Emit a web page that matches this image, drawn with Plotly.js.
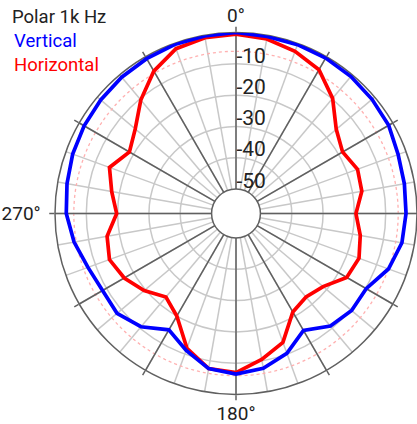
<!DOCTYPE html>
<html>
<head>
<meta charset="utf-8">
<script src="https://cdn.plot.ly/plotly-3.0.1.min.js"></script>
<style>html,body{margin:0;padding:0;background:#fff;}#chart{width:417px;height:424px;}</style>
</head>
<body>
<div id="chart"></div>
<script>
// Angles (degrees, clockwise from top)
const angles = [0,10,20,30,40,50,60,70,80,90,100,110,120,130,140,150,160,170,
                180,190,200,210,220,230,240,250,260,270,280,290,300,310,320,330,340,350];
// Vertical response (dB)
const vertical = [0,-0.4,-0.4,-0.5,-0.7,-1.1,-1.5,-2.7,-3.2,-3.5,-4.0,-6.0,-9.8,-9.6,-10.9,-14.7,-10.3,-7.6,
                  -6.5,-7.5,-11.3,-14.9,-10.6,-8.2,-8.6,-7.5,-5.3,-3.6,-3.0,-2.3,-1.8,-1.4,-1.0,-0.7,-0.4,-0.2];
// Horizontal response (dB)
const horizontal = [-0.5,-1.2,-2.7,-4.8,-9.8,-16,-18.5,-16.5,-17,-19.5,-17.5,-16,-17,-21.5,-23,-21.5,-14,-10.5,
                    -7,-7.5,-12,-20,-23,-19.5,-16.6,-14.8,-16,-19.7,-17.5,-14.8,-18.5,-15.8,-10.5,-5.3,-1.8,-0.8];
const radialTicks = [-10,-20,-30,-40,-50];
const radialTickText = ['-10','-20','-30','-40','-50'];
const majorAngles = [0,30,60,90,120,150,180,210,240,270,300,330];
const majorAngleText = ['0°','','','','','','180°','','','','',''];
const minorAngleText = angles.map(a => a === 270 ? '270°' : '');
const refLevel = -6;

function closed(a){ return a.concat([a[0]]); }
const thetaClosed = angles.concat([360]);

const refTheta = [], refR = [];
for (let t = 0; t <= 360; t += 2) { refTheta.push(t); refR.push(refLevel); }

const dom = {x:[55/417, 1], y:[29.5/424, 391.5/424]};
const hole = 0.135;

const traces = [
  {type:'scatterpolar', subplot:'polar', r:refR, theta:refTheta, mode:'lines',
   line:{color:'#ffb0b0', width:1.3, dash:'3px,3px'}, hoverinfo:'skip'},
  {type:'scatterpolar', subplot:'polar2', name:'Horizontal', r:closed(horizontal), theta:thetaClosed, mode:'lines',
   line:{color:'#ff0000', width:3.7}},
  {type:'scatterpolar', subplot:'polar2', name:'Vertical', r:closed(vertical), theta:thetaClosed, mode:'lines',
   line:{color:'#0000ff', width:3.7}},
  {type:'scatterpolar', subplot:'polar3', r:[], theta:[], mode:'lines', hoverinfo:'skip'}
];

const layout = {
  width:417, height:424, margin:{l:0,r:0,t:0,b:0}, showlegend:false,
  paper_bgcolor:'#fff',
  font:{family:'Roboto, sans-serif', size:18, color:'#222'},
  title:{text:'Polar 1k Hz', x:12/417, xanchor:'left', y:1-17/424, yanchor:'middle',
         font:{size:18.5, color:'#222', family:'Roboto, sans-serif'}},
  annotations:[
    {text:'Vertical', xref:'paper', yref:'paper', x:12/417, xanchor:'left', y:(424-41.5)/424, yanchor:'middle',
     showarrow:false, font:{size:18.5, color:'#0000ff'}},
    {text:'Horizontal', xref:'paper', yref:'paper', x:12/417, xanchor:'left', y:(424-65)/424, yanchor:'middle',
     showarrow:false, font:{size:18.5, color:'#ff0000'}}
  ],
  polar:{domain:dom, hole:hole, bgcolor:'#fff',
    radialaxis:{range:[-50,0], tickvals:[-40,-30,-20,-10], showticklabels:false, ticks:'', showline:false,
                gridcolor:'#c8c8c8', gridwidth:1.5},
    angularaxis:{rotation:90, direction:'clockwise', tickmode:'array', tickvals:angles, ticktext:minorAngleText,
                 ticks:'outside', ticklen:10, tickcolor:'rgba(0,0,0,0)', showline:false,
                 gridcolor:'#c8c8c8', gridwidth:1.5, tickfont:{size:19, color:'#222'}}
  },
  polar2:{domain:dom, hole:hole, bgcolor:'rgba(0,0,0,0)',
    radialaxis:{range:[-50,0], showgrid:false, showticklabels:false, ticks:'', showline:false},
    angularaxis:{rotation:90, direction:'clockwise', tickmode:'array', tickvals:majorAngles,
                 showticklabels:false, ticks:'outside', ticklen:5, tickcolor:'#606060', tickwidth:1.5,
                 showline:true, linecolor:'#606060', linewidth:1.5,
                 gridcolor:'#606060', gridwidth:1.5, layer:'below traces'}
  },
  polar3:{domain:dom, hole:hole, bgcolor:'rgba(0,0,0,0)',
    radialaxis:{range:[-52.6,-2.6], angle:90, tickangle:90, tickmode:'array', tickvals:radialTicks, ticktext:radialTickText,
                showgrid:false, showline:false, ticks:'', tickfont:{size:21, color:'#222'}},
    angularaxis:{rotation:90, direction:'clockwise', tickmode:'array', tickvals:majorAngles, ticktext:majorAngleText,
                 showgrid:false, showline:false, ticks:'outside', ticklen:2, tickcolor:'rgba(0,0,0,0)',
                 tickfont:{size:19, color:'#222'}}
  }
};

Plotly.newPlot('chart', traces, layout, {staticPlot:true, displayModeBar:false});
</script>
</body>
</html>
